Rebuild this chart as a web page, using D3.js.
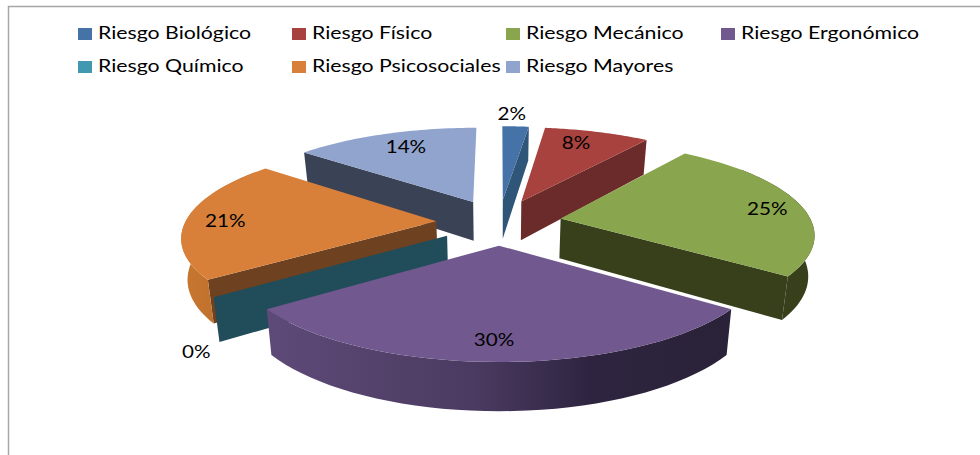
<!DOCTYPE html>
<html>
<head>
<meta charset="utf-8">
<script src="https://cdn.jsdelivr.net/npm/d3@7"></script>
<style>
  html, body { margin: 0; padding: 0; background: #fff; }
  svg { display: block; }
  text { font-family: Lato, "Noto Sans", sans-serif; fill: #000; }
</style>
</head>
<body>
<div id="chart"></div>
<script>
const categories = ['Riesgo Biológico', 'Riesgo Físico', 'Riesgo Mecánico', 'Riesgo Ergonómico', 'Riesgo Químico', 'Riesgo Psicosociales', 'Riesgo Mayores'];
const values = [2, 8, 25, 30, 0, 21, 14];
const topColors = ['#4572a7', '#a8423f', '#89a54e', '#71588f', '#4198af', '#d8803a', '#90a4cd'];
const faceColors = ['#2f5578', '#6b2b2a', '#373f1b', '#2e2440', '#214c5a', '#6e4120', '#3a4256'];
const wallColors = ['#2f5578', '#6b2b2a', '#373f1b', '#2e2440', '#214c5a', '#bd6f2f', '#3a4256'];
// label offset from the slice's default spot, in pixels
const labelNudge = [[-1, -29], [-4, -5], [26, 1], [-5, 11], [-80, 71], [-24, 2], [1, -3]];

const width = 980, height = 455;

// projection of the tilted pie, far side is smaller
const cx = 499, cy = 222, scaleX = 251, scaleY = 91, persp = 0.15, explode = 0.25, thickness = 40, bottomShrink = 0.98;
const project = (X, Y, down = 0) => {
  const w = 1 + persp * Y;
  const sx = scaleX * X / w, sy = cy - scaleY * Y / w;
  return down ? [cx + sx * bottomShrink, sy + thickness / w] : [cx + sx, sy];
};

const svg = d3.select('#chart').append('svg').attr('width', width).attr('height', height);
const defs = svg.append('defs');

// chart frame, only top and left are in the picture
svg.append('path')
  .attr('d', `M${width},6.5H8.5V${height}`)
  .attr('fill', 'none').attr('stroke', '#a6a6a6').attr('stroke-width', 1.5);

// legend
const legendX = d3.scaleOrdinal().domain(d3.range(4)).range([78, 292, 506, 721]);
const legendY = d3.scaleOrdinal().domain(d3.range(2)).range([33, 66]);
const legend = svg.selectAll('.legend').data(categories).enter().append('g')
  .attr('class', 'legend')
  .attr('transform', (d, i) => `translate(${legendX(i % 4)},${legendY(Math.floor(i / 4))})`);
legend.append('rect').attr('x', 0).attr('y', -5).attr('width', 14).attr('height', 12)
  .attr('fill', (d, i) => topColors[i]);
legend.append('text').attr('x', 20).attr('y', 6).style('font-size', '16.5px').text(d => d)
  .attr('textLength', function () { return this.getComputedTextLength() * 1.29; })
  .attr('lengthAdjust', 'spacingAndGlyphs');

const pie = d3.pie().sort(null).value(d => d);
const arcs = pie(values).map((d, i) => {
  const mid = (d.startAngle + d.endAngle) / 2;
  return { ...d, i, mid, ox: explode * Math.sin(mid), oy: explode * Math.cos(mid) };
});

const line = d3.line();
const rim = (s, a, down) => project(s.ox + Math.sin(a), s.oy + Math.cos(a), down);
const stepsFor = (a0, a1) => d3.range(0, 41).map(k => a0 + (a1 - a0) * k / 40);

// purple wall is shaded left to right
const grad = defs.append('linearGradient').attr('id', 'wallPurple');
grad.append('stop').attr('offset', '0%').attr('stop-color', '#5e4a78');
grad.append('stop').attr('offset', '45%').attr('stop-color', '#4a3a60');
grad.append('stop').attr('offset', '70%').attr('stop-color', '#2e2440');
grad.append('stop').attr('offset', '100%').attr('stop-color', '#2a2238');
const gradO = defs.append('linearGradient').attr('id', 'wallOrange');
gradO.append('stop').attr('offset', '0%').attr('stop-color', '#c8772f');
gradO.append('stop').attr('offset', '100%').attr('stop-color', '#b56a2c');

const PI = Math.PI;
// far slices first so the near ones cover them
const order = arcs.slice().sort((a, b) => b.oy - a.oy);

order.forEach(s => {
  const g = svg.append('g').attr('class', 'slice');
  const apex = project(s.ox, s.oy), apexLow = project(s.ox, s.oy, 1);

  // radial faces looking at the viewer
  const faceAngles = [];
  if (s.endAngle > 0 && s.endAngle < PI) faceAngles.push(s.endAngle);
  if (s.startAngle > PI && s.startAngle < 2 * PI) faceAngles.push(s.startAngle);
  faceAngles.forEach(a => {
    g.append('path')
      .attr('d', line([apex, rim(s, a), rim(s, a, 1), apexLow]) + 'Z')
      .attr('fill', faceColors[s.i]);
  });

  // outer wall, the top surface hides whatever runs past the tangent
  const a0 = Math.max(s.startAngle, PI * 0.3), a1 = Math.min(s.endAngle, PI * 1.7);
  if (a1 > a0) {
    const steps = stepsFor(a0, a1);
    const pts = steps.map(a => rim(s, a)).concat(steps.slice().reverse().map(a => rim(s, a, 1)));
    g.append('path').attr('d', line(pts) + 'Z')
      .attr('fill', s.i === 3 ? 'url(#wallPurple)' : s.i === 5 ? 'url(#wallOrange)' : wallColors[s.i]);
  }

  // top surface
  if (s.endAngle > s.startAngle) {
    const top = [apex].concat(stepsFor(s.startAngle, s.endAngle).map(a => rim(s, a)));
    g.append('path').attr('d', line(top) + 'Z').attr('fill', topColors[s.i]);
  }
});

// percent labels
const total = d3.sum(values);
svg.selectAll('.pct').data(arcs).enter().append('text')
  .attr('class', 'pct')
  .attr('text-anchor', 'middle')
  .style('font-size', '16.5px')
  .attr('transform', s => {
    const p = project(s.ox + 0.75 * Math.sin(s.mid), s.oy + 0.75 * Math.cos(s.mid));
    return `translate(${p[0] + labelNudge[s.i][0]},${p[1] + labelNudge[s.i][1] + 6})`;
  })
  .text(s => `${Math.round(s.value / total * 100)}%`)
  .attr('textLength', function () { return this.getComputedTextLength() * 1.25; })
  .attr('lengthAdjust', 'spacingAndGlyphs');
</script>
</body>
</html>
